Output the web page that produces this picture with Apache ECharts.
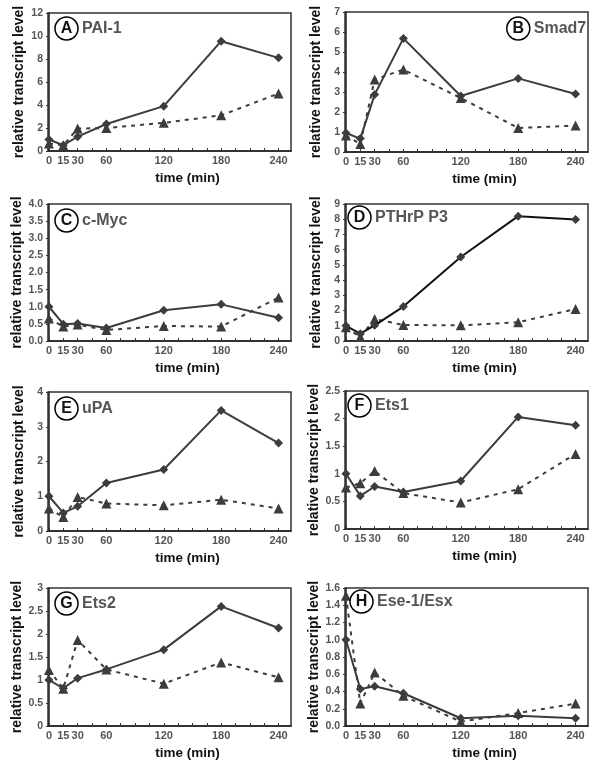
<!DOCTYPE html>
<html>
<head>
<meta charset="utf-8">
<script src="https://cdn.jsdelivr.net/npm/echarts@6/dist/echarts.min.js"></script>
<style>
html,body{margin:0;padding:0;background:#fff;}
#chart{width:600px;height:766px;}
</style>
</head>
<body>
<div id="chart"></div>
<script>
// time points (min)
const times = [0, 15, 30, 60, 120, 180, 240];
const xLabelValues = [0, 15, 30, 60, 120, 180, 240];
const xTickValues = [0, 15, 30, 45, 60, 75, 90, 105, 120, 135, 150, 165, 180, 195, 210, 225, 240];

// panel titles
const panelLetters = ['A', 'B', 'C', 'D', 'E', 'F', 'G', 'H'];
const panelGenes = ['PAI-1', 'Smad7', 'c-Myc', 'PTHrP P3', 'uPA', 'Ets1', 'Ets2', 'Ese-1/Esx'];

// values: solid line (diamonds) and dashed line (triangles)
const paiSolid   = [1.0, 0.5, 1.25, 2.35, 3.9, 9.55, 8.1];
const paiDashed  = [0.65, 0.5, 1.95, 2.0, 2.45, 3.1, 5.0];
const smadSolid  = [0.95, 0.67, 2.87, 5.68, 2.8, 3.68, 2.9];
const smadDashed = [0.82, 0.4, 3.63, 4.12, 2.7, 1.2, 1.32];
const mycSolid   = [1.0, 0.49, 0.51, 0.38, 0.9, 1.07, 0.68];
const mycDashed  = [0.66, 0.42, 0.48, 0.32, 0.44, 0.42, 1.27];
const pthSolid   = [1.0, 0.48, 1.03, 2.26, 5.52, 8.2, 7.98];
const pthDashed  = [0.9, 0.26, 1.45, 1.05, 1.03, 1.23, 2.1];
const upaSolid   = [1.0, 0.52, 0.71, 1.38, 1.77, 3.47, 2.53];
const upaDashed  = [0.65, 0.4, 0.98, 0.79, 0.74, 0.9, 0.65];
const ets1Solid  = [1.0, 0.6, 0.77, 0.67, 0.87, 2.03, 1.88];
const ets1Dashed = [0.75, 0.83, 1.05, 0.65, 0.48, 0.72, 1.36];
const ets2Solid  = [1.0, 0.82, 1.04, 1.23, 1.66, 2.6, 2.13];
const ets2Dashed = [1.22, 0.81, 1.87, 1.23, 0.92, 1.38, 1.06];
const eseSolid   = [1.0, 0.43, 0.46, 0.38, 0.09, 0.12, 0.09];
const eseDashed  = [1.51, 0.26, 0.62, 0.35, 0.05, 0.15, 0.26];

// y-axis scales per panel
const yMax      = [12, 7, 4, 9, 4, 2.5, 3, 1.6];
const yInterval = [2, 1, 0.5, 1, 1, 0.5, 0.5, 0.2];
const yDecimals = [0, 0, 1, 0, 0, 0, 0, 1];

const solidSets  = [paiSolid, smadSolid, mycSolid, pthSolid, upaSolid, ets1Solid, ets2Solid, eseSolid];
const dashedSets = [paiDashed, smadDashed, mycDashed, pthDashed, upaDashed, ets1Dashed, ets2Dashed, eseDashed];

// layout
const grids = [
  {left: 48,  top: 13,  width: 243, height: 138},
  {left: 345, top: 12,  width: 243, height: 140},
  {left: 48,  top: 204, width: 243, height: 137},
  {left: 345, top: 204, width: 243, height: 137},
  {left: 48,  top: 392, width: 243, height: 139},
  {left: 345, top: 391, width: 243, height: 138},
  {left: 48,  top: 588, width: 243, height: 138},
  {left: 345, top: 588, width: 243, height: 138}
];
const titlePos = [
  {left: 55, top: 18},
  {right: 13, top: 18},
  {left: 55, top: 210},
  {left: 348, top: 207},
  {left: 55, top: 398},
  {left: 348, top: 395},
  {left: 55, top: 593},
  {left: 350, top: 591}
];

const FONT = '"Liberation Sans", Arial, sans-serif';
const LINE = '#3c3c3c';

const option = {
  animation: false,
  backgroundColor: '#fff',
  title: panelLetters.map((L, i) => Object.assign({
    text: '{c|' + L + '}{n|' + panelGenes[i] + '}',
    padding: 0,
    textStyle: {
      rich: {
        c: {width: 21, height: 21, lineHeight: 21, align: 'center', borderColor: '#000', borderWidth: 1.5,
            borderRadius: 12, fontSize: 16, fontWeight: 'bold', color: '#111', fontFamily: FONT, padding: [1,1,1,1]},
        n: {fontSize: 16, fontWeight: 'bold', color: '#555', fontFamily: FONT, padding: [0,0,0,4]}
      }
    }
  }, titlePos[i])),
  grid: grids.map(g => Object.assign({show: true, borderColor: '#333', borderWidth: 1.5, backgroundColor: 'transparent'}, g)),
  xAxis: grids.map((g, i) => ({
    type: 'value', gridIndex: i, min: -1, max: 253,
    name: 'time (min)', nameLocation: 'middle', nameGap: 20,
    nameTextStyle: {fontSize: 13.5, fontWeight: 'bold', color: '#111', fontFamily: FONT, padding: [0,0,0,36]},
    axisLine: {show: true, lineStyle: {color: '#222', width: 1.5}},
    axisTick: {show: true, inside: true, length: 3, customValues: xTickValues, lineStyle: {color: '#333'}},
    axisLabel: {customValues: xLabelValues, margin: 4, fontSize: 11, fontWeight: 'bold', color: '#555', fontFamily: FONT},
    splitLine: {show: false}
  })),
  yAxis: grids.map((g, i) => ({
    type: 'value', gridIndex: i, min: 0, max: yMax[i], interval: yInterval[i],
    name: 'relative transcript level', nameLocation: 'middle', nameRotate: 90, nameGap: 22,
    nameTextStyle: {fontSize: 14, fontWeight: 'bold', color: '#111', fontFamily: FONT},
    axisLine: {show: true, lineStyle: {color: '#222', width: 1.5}},
    axisTick: {show: true, length: 3, lineStyle: {color: '#333'}},
    axisLabel: {margin: 5, fontSize: 10.5, fontWeight: 'bold', color: '#555', fontFamily: FONT,
      formatter: v => yDecimals[i] ? v.toFixed(yDecimals[i]) : String(Math.round(v * 100) / 100)},
    splitLine: {show: false}
  })),
  series: []
};

for (let i = 0; i < 8; i++) {
  option.series.push({
    type: 'line', xAxisIndex: i, yAxisIndex: i,
    data: times.map((t, k) => [t, dashedSets[i][k]]),
    symbol: 'triangle', symbolSize: 10,
    itemStyle: {color: LINE},
    lineStyle: {color: LINE, width: 2, type: [4, 5]},
    z: 2
  });
  option.series.push({
    type: 'line', xAxisIndex: i, yAxisIndex: i,
    data: times.map((t, k) => [t, solidSets[i][k]]),
    symbol: 'diamond', symbolSize: 9,
    itemStyle: {color: LINE},
    lineStyle: {color: i === 3 ? '#111' : LINE, width: 2},
    z: 3
  });
}

const chart = echarts.init(document.getElementById('chart'), null, {renderer: 'canvas'});
chart.setOption(option);
</script>
</body>
</html>
